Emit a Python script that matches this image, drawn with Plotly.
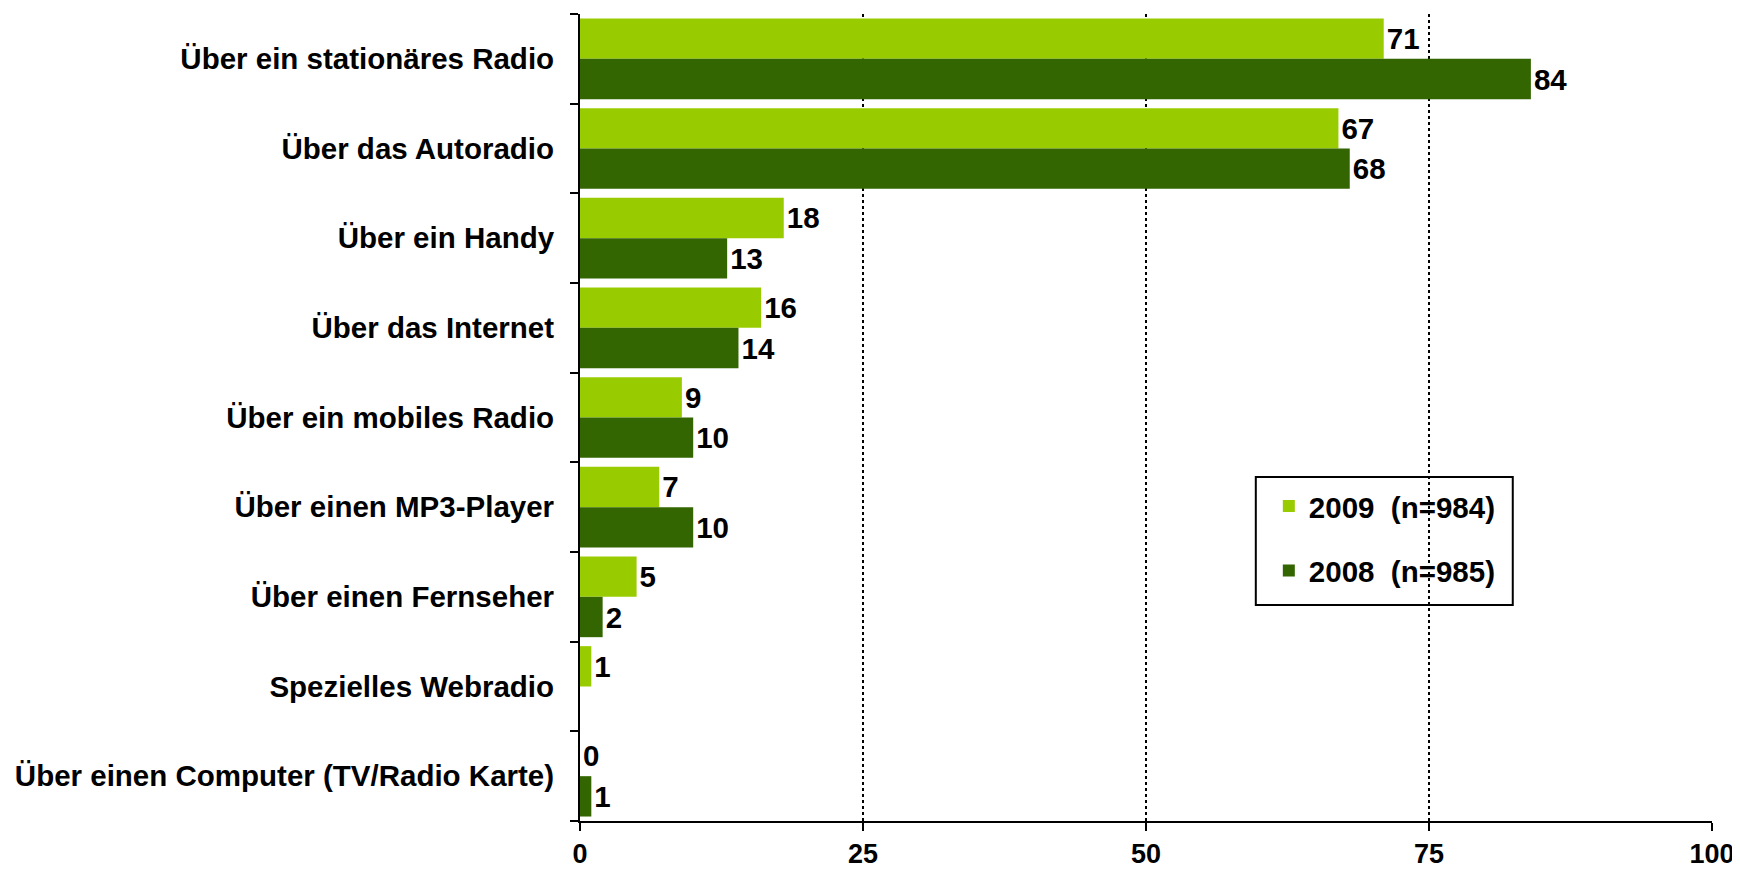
import plotly.graph_objects as go

categories = [
    "Über ein stationäres Radio",
    "Über das Autoradio",
    "Über ein Handy",
    "Über das Internet",
    "Über ein mobiles Radio",
    "Über einen MP3-Player",
    "Über einen Fernseher",
    "Spezielles Webradio",
    "Über einen Computer (TV/Radio Karte)",
]
values_2009 = [71, 67, 18, 16, 9, 7, 5, 1, 0]
values_2008 = [84, 68, 13, 14, 10, 10, 2, None, 1]
series_names = ["2009  (n=984)", "2008  (n=985)"]
x_ticks = [0, 25, 50, 75, 100]

FONT = "Liberation Sans"
fig = go.Figure()
for name, vals, color in [
    (series_names[0], values_2009, "#99CC00"),
    (series_names[1], values_2008, "#336600"),
]:
    fig.add_trace(go.Bar(
        y=categories, x=vals, orientation="h",
        name="<b>" + name.replace("  ", "&nbsp;&nbsp;") + "</b>",
        marker=dict(color=color, line=dict(width=0)),
        text=["" if v is None else f"<b>{v}</b>" for v in vals],
        textposition="outside", cliponaxis=False, constraintext="none",
        textfont=dict(family=FONT, size=29.5, color="black"),
        legendgroup=name,
    ))

# legend frame
fig.add_shape(type="rect", xref="paper", yref="paper",
              x0=0.597, x1=0.824, y0=0.2677, y1=0.4263,
              line=dict(color="black", width=2), fillcolor="white", layer="below")

# page body has an 8px margin: figure is offset to compensate
fig.update_layout(
    width=1740, height=862,
    margin=dict(l=572, r=36, t=6, b=49, autoexpand=False),
    paper_bgcolor="white", plot_bgcolor="white",
    barmode="group", bargap=0.1, bargroupgap=0,
    font=dict(family=FONT, size=29.5, color="black"),
    legend=dict(
        x=0.6085, y=0.422, xanchor="left", yanchor="top",
        borderwidth=0, bgcolor="rgba(0,0,0,0)",
        font=dict(family=FONT, size=29.5, color="black"),
        traceorder="grouped", tracegroupgap=23,
        itemwidth=30,
    ),
)
fig.update_xaxes(
    range=[0, 100], tickvals=x_ticks, ticktext=[f"<b>{t}</b>" for t in x_ticks],
    tickfont=dict(size=27), ticklabeloverflow="allow",
    showgrid=True, gridcolor="black", griddash="dot", gridwidth=2,
    showline=True, linecolor="black", linewidth=2,
    ticks="outside", ticklen=8, tickwidth=2, tickcolor="black",
    zeroline=False, automargin=False,
)
fig.update_yaxes(
    autorange="reversed", tickson="boundaries",
    tickvals=categories, ticktext=[f"<b>{c}</b>" for c in categories],
    showline=True, linecolor="black", linewidth=2,
    ticks="outside", ticklen=8, tickwidth=2, tickcolor="black",
    ticklabelstandoff=18, showgrid=False, automargin=False,
)
fig.write_html("out.html")
